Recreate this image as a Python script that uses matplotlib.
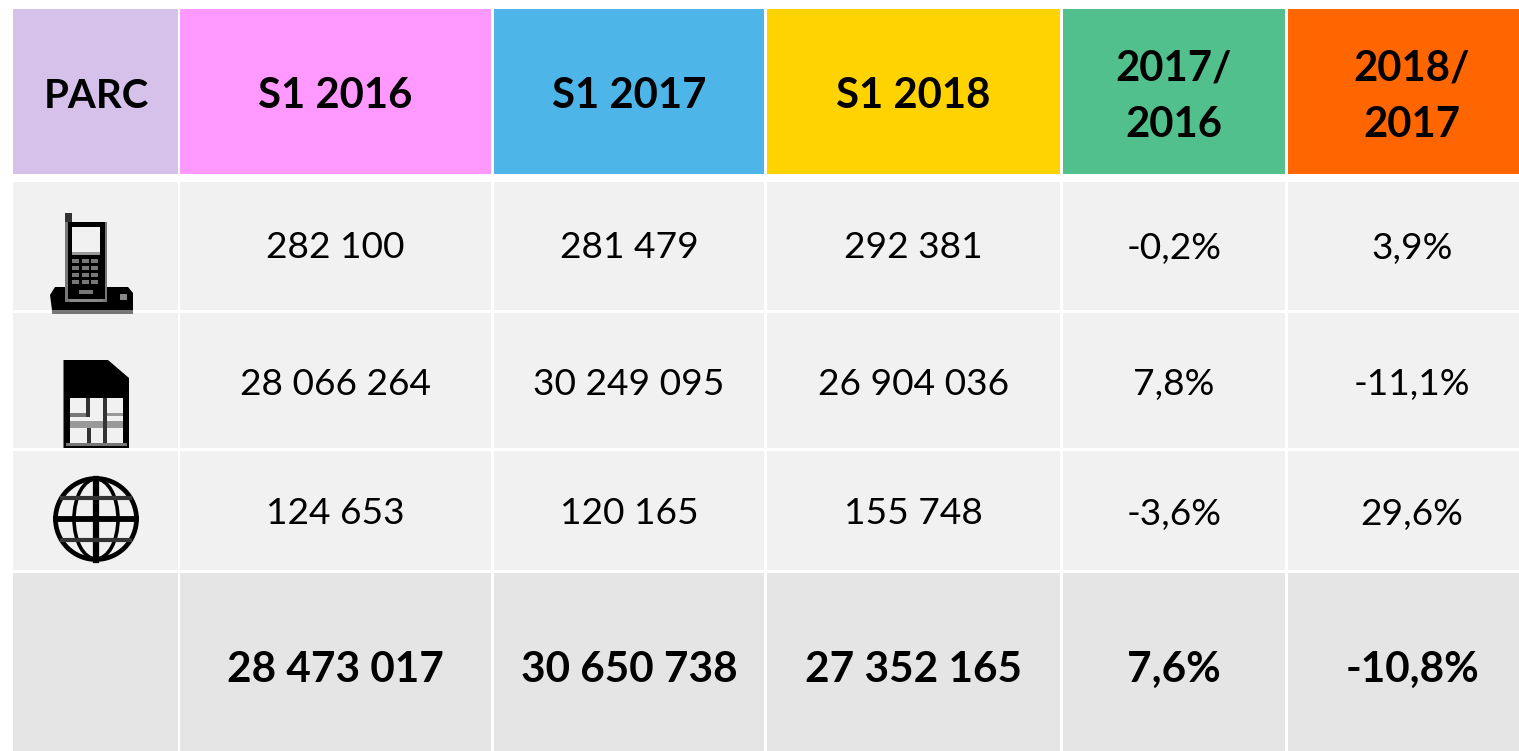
import matplotlib
matplotlib.use('Agg')
from matplotlib import pyplot as plt
from matplotlib.patches import Rectangle, Polygon, Circle, Ellipse

plt.rcParams['font.family'] = ['Lato', 'DejaVu Sans']

# table content
headers = ['PARC', 'S1 2016', 'S1 2017', 'S1 2018', '2017/\n2016', '2018/\n2017']
header_colors = ['#d6c1eb', '#ff99ff', '#4db5e8', '#ffd300', '#52c08c', '#ff6600']
row_phone = ['282 100', '281 479', '292 381', '-0,2%', '3,9%']
row_sim = ['28 066 264', '30 249 095', '26 904 036', '7,8%', '-11,1%']
row_web = ['124 653', '120 165', '155 748', '-3,6%', '29,6%']
row_total = ['28 473 017', '30 650 738', '27 352 165', '7,6%', '-10,8%']

# cell edges and text centres in pixels
col_edges = [(13, 177.5), (180, 491), (493.5, 764), (767, 1060), (1063, 1285), (1287.5, 1519)]
row_edges = [(9, 174), (182, 310), (313, 448), (451, 570), (573, 751)]
text_x = [96, 335.5, 629, 913.5, 1174, 1412]
text_y = [96.5, 248, 384.5, 514, 670]
light = '#f1f1f1'
dark = '#e5e5e5'

fig = plt.figure(figsize=(15.19, 7.51), dpi=100)
ax = fig.add_axes([0, 0, 1, 1])
ax.set_xlim(0, 1519)
ax.set_ylim(751, 0)
ax.axis('off')


def cell(c, r, color):
    x0, x1 = col_edges[c]
    y0, y1 = row_edges[r]
    ax.add_patch(Rectangle((x0, y0), x1 - x0, y1 - y0, fc=color, ec='none'))


def label(c, r, s, size=26.7, weight='normal'):
    ax.text(text_x[c], text_y[r], s, ha='center', va='center',
            fontsize=size, fontweight=weight, color='black', linespacing=1.61)


for c in range(6):
    cell(c, 0, header_colors[c])
    label(c, 0, headers[c], 29 if c == 0 else 30.2, 'bold')

rows = [row_phone, row_sim, row_web]
for r in range(3):
    cell(0, r + 1, light)
    for c in range(5):
        cell(c + 1, r + 1, light)
        label(c + 1, r + 1, rows[r][c])

cell(0, 4, dark)
for c in range(5):
    cell(c + 1, 4, dark)
    label(c + 1, 4, row_total[c], 30.4, 'bold')


def box(x0, y0, x1, y1, color='black', z=3):
    ax.add_patch(Rectangle((x0, y0), x1 - x0, y1 - y0, fc=color, ec='none', zorder=z))


# phone icon
ax.add_patch(Polygon([(50, 295), (55, 287), (128, 287), (133, 293), (133, 310), (52, 310)],
                     closed=True, fc='black', ec='none', zorder=3))
box(52, 310, 133, 313.5, '#777777')
box(65, 213, 72, 250, '#333333')
box(65, 222, 107, 302, '#777777', 4)
box(67.5, 222, 105, 299, 'black', 4)
box(72, 227, 100, 252, '#f1f1f1', 5)
box(72, 252, 100, 255, '#999999', 5)
for i in range(3):
    for j in range(4):
        box(72 + i * 9.5, 259 + j * 7, 79 + i * 9.5, 263 + j * 7, '#777777', 5)
box(79, 290, 93, 294, '#777777', 5)
box(70, 299, 103, 302, '#888888', 5)
box(120, 294, 127, 300, '#888888', 5)

# sim card icon
ax.add_patch(Polygon([(63.5, 360), (108, 360), (129, 378), (129, 448), (63.5, 448)],
                     closed=True, fc='black', ec='none', zorder=3))
box(70, 398, 123, 443, '#f1f1f1', 4)
box(70, 421, 123, 428, '#999999', 5)
box(70, 413, 90, 417, '#777777', 5)
box(107, 413, 123, 416, '#999999', 5)
box(86, 398, 90, 417, '#333333', 5)
box(87, 428, 91, 443, '#333333', 5)
box(103, 398, 107, 443, '#333333', 5)
box(66, 443, 127, 445.5, '#777777', 5)

# globe icon
gc = (96, 519)
ax.add_patch(Circle(gc, 40.5, fc='#f1f1f1', ec='black', lw=3.4, zorder=3))
ax.add_patch(Ellipse(gc, 44, 80, fc='none', ec='black', lw=2.6, zorder=4))
ax.plot([96, 96], [479, 560], color='black', lw=4.5, zorder=4)
ax.plot([56, 136], [519, 519], color='black', lw=4.2, zorder=4)
ax.plot([62, 130], [498, 498], color='#333333', lw=3, zorder=4)
ax.plot([62, 130], [540, 540], color='#333333', lw=3, zorder=4)

fig.savefig('out.png', dpi=100)
